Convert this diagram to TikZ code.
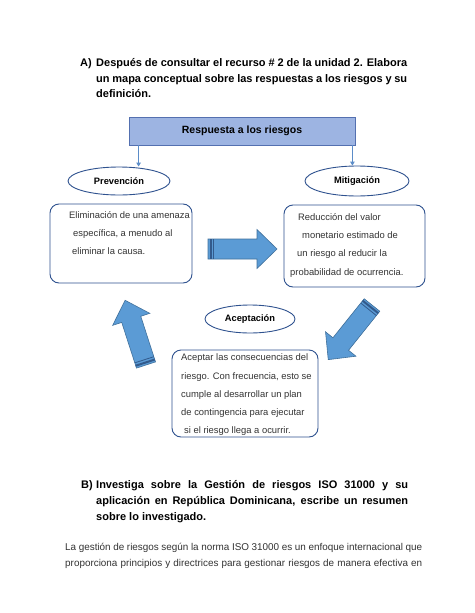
\documentclass[tikz,border=0pt]{standalone}
\usepackage{fontspec}
\setmainfont{Liberation Sans}
\usetikzlibrary{arrows.meta,shapes.geometric}
\definecolor{hdrfill}{RGB}{157,180,226}
\definecolor{hdrdraw}{RGB}{84,112,176}
\definecolor{darkline}{RGB}{47,82,143}
\definecolor{arrfill}{RGB}{91,155,213}
\definecolor{arrdraw}{RGB}{65,113,156}
\definecolor{arrstripe}{RGB}{50,90,140}
\definecolor{smallarr}{RGB}{91,140,200}
\newcommand\blockarr[4]{%
  \begin{scope}[shift={(#1,#2)}, rotate=#3, x=1pt, y=1pt]
    \draw[blkarrow] (0,-10) -- ({#4-20},-10) -- ({#4-20},-19.5) -- (#4,0)
      -- ({#4-20},19.5) -- ({#4-20},10) -- (0,10) -- cycle;
    \fill[arrstripe] (1.5,-10) rectangle (3.5,10);
    \draw[arrstripe, line width=0.8pt] (5.5,-10) -- (5.5,10);
  \end{scope}}
\begin{document}
\begin{tikzpicture}[x=1pt,y=-1pt,
  ttl/.style={font=\fontsize{11}{13}\selectfont\bfseries, anchor=base west, inner sep=0pt},
  bodytxt/.style={font=\fontsize{9.4}{11}\selectfont, anchor=base west, inner sep=0pt, text=black!80},
  paratxt/.style={font=\fontsize{9.9}{12}\selectfont, anchor=base west, inner sep=0pt, text=black!80},
  ellip/.style={ellipse, draw=darkline, line width=0.9pt, fill=white, inner sep=0pt,
    font=\fontsize{9.3}{11}\selectfont\bfseries},
  rbox/.style={draw=darkline, line width=0.9pt, rounded corners=9pt, fill=white, inner sep=0pt},
  blkarrow/.style={fill=arrfill, draw=arrdraw, line width=0.6pt, line join=miter},
  smallconn/.style={draw=smallarr, line width=1pt, -{Triangle[length=4pt,width=4.5pt]}}
]
\useasboundingbox[fill=white] (0,0) rectangle (474,613);

% Title A
\node[ttl] (aLbl) at (80,66) {A)};
\node[ttl] (a1) at (96,66) {\makebox[311pt][s]{Después de consultar el recurso \# 2 de la unidad 2. Elabora}};
\node[ttl] (a2) at (96,82) {\makebox[311pt][s]{un mapa conceptual sobre las respuestas a los riesgos y su}};
\node[ttl] (a3) at (96,97) {definición.};

% Header
\node[draw=hdrdraw, fill=hdrfill, line width=0.8pt, minimum width=226pt, minimum height=28pt,
  inner sep=0pt, font=\fontsize{10.5}{12}\selectfont\bfseries] (top) at (242,131) {Respuesta a los riesgos};

% Ellipses
\node[ellip, minimum width=102pt, minimum height=28pt] (prev) at (119,181) {Prevención};
\node[ellip, minimum width=104pt, minimum height=30pt] (miti) at (357,181) {Mitigación};
\node[ellip, minimum width=90pt, minimum height=28pt] (acep) at (250,319) {Aceptación};

% Connectors from header
\path (top.south west) ++(10,0) coordinate (t1);
\path (top.south east) ++(-3,0) coordinate (t2);
\draw[smallconn] (t1) -- (t1 |- prev.north);
\draw[smallconn] (t2) -- (t2 |- miti.north);

% Boxes
\node[rbox, minimum width=142pt, minimum height=79pt] (prevbox) at (121,243.5) {};
\node[rbox, minimum width=141pt, minimum height=82pt] (mitibox) at (354.5,246) {};
\node[rbox, minimum width=146pt, minimum height=87pt] (acepbox) at (245,393.5) {};

% Box texts
\node[bodytxt] (pt1) at (69,218) {Eliminación de una amenaza};
\node[bodytxt] (pt2) at (73,236) {específica, a menudo al};
\node[bodytxt] (pt3) at (72,254) {eliminar la causa.};

\node[bodytxt] (mt1) at (298,220) {Reducción del valor};
\node[bodytxt] (mt2) at (302,238) {monetario estimado de};
\node[bodytxt] (mt3) at (297,256) {un riesgo al reducir la};
\node[bodytxt] (mt4) at (290,275) {probabilidad de ocurrencia.};

\node[bodytxt] (at1) at (181,360) {Aceptar las consecuencias del};
\node[bodytxt] (at2) at (181,379) {riesgo. Con frecuencia, esto se};
\node[bodytxt] (at3) at (181,397) {cumple al desarrollar un plan};
\node[bodytxt] (at4) at (181,415) {de contingencia para ejecutar};
\node[bodytxt] (at5) at (184,433) {si el riesgo llega a ocurrir.};

% Block arrows
\blockarr{208}{249}{0}{69}
\blockarr{146}{365}{107.9}{68}
\blockarr{372}{305}{231.3}{70}

% Title B
\node[ttl] (bLbl) at (81,488) {B)};
\node[ttl] (b1) at (96,488) {\makebox[312pt][s]{Investiga sobre la Gestión de riesgos ISO 31000 y su}};
\node[ttl] (b2) at (96,504) {\makebox[312pt][s]{aplicación en República Dominicana, escribe un resumen}};
\node[ttl] (b3) at (96,520) {sobre lo investigado.};

% Paragraph
\node[paratxt] (p1) at (65,550) {\makebox[357pt][s]{La gestión de riesgos según la norma ISO 31000 es un enfoque internacional que}};
\node[paratxt] (p2) at (65,566) {\makebox[357pt][s]{proporciona principios y directrices para gestionar riesgos de manera efectiva en}};
\end{tikzpicture}
\end{document}
